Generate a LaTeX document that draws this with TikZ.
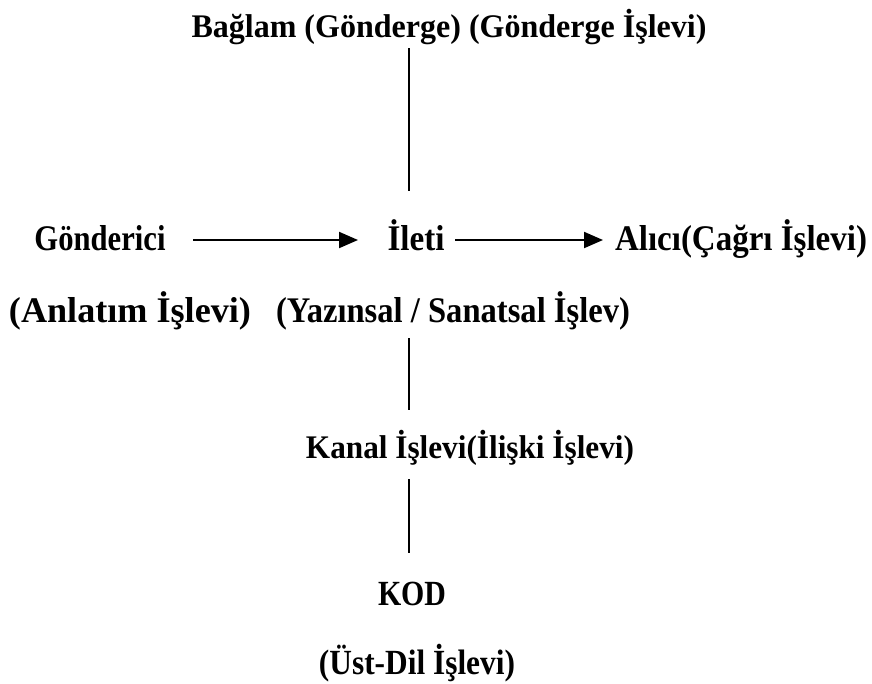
\documentclass[tikz,border=0pt]{standalone}
\usepackage{fontspec}
\setmainfont{Liberation Serif}
\usepackage{graphicx}
\usetikzlibrary{arrows.meta}
\newcommand\fitw[3]{\resizebox{#1pt}{#2\height}{#3}}
\begin{document}
\begin{tikzpicture}[x=1pt,y=-1pt,
  lbl/.style={anchor=base,inner sep=0pt,font=\fontsize{34}{40}\bfseries\selectfont},
  conn/.style={line width=1.7pt},
  arr/.style={line width=2pt,-{Triangle[length=19pt,width=16pt]}}]
\useasboundingbox (0,0) rectangle (872,683);
\node[lbl] (bag) at (449,37) {\fitw{515}{0.97}{Bağlam (Gönderge) (Gönderge İşlevi)}};
\node[lbl] (gon) at (100,250) {\fitw{131}{1.06}{Gönderici}};
\node[lbl] (ile) at (416,250) {\fitw{57}{1.06}{İleti}};
\node[lbl] (ali) at (741,250) {\fitw{252}{1.06}{Alıcı(Çağrı İşlevi)}};
\node[lbl] (anl) at (130,322) {\fitw{242}{1.06}{(Anlatım İşlevi)}};
\node[lbl] (yaz) at (453,322) {\fitw{354}{1.06}{(Yazınsal / Sanatsal İşlev)}};
\node[lbl] (kan) at (470,458) {\fitw{328}{0.97}{Kanal İşlevi(İlişki İşlevi)}};
\node[lbl] (kod) at (412,605) {\fitw{68}{1.04}{KOD}};
\node[lbl] (ust) at (417,674) {\fitw{196}{1.04}{(Üst-Dil İşlevi)}};
\coordinate (t1) at (409,48);
\coordinate (t2) at (409,191);
\coordinate (m1) at (409,338);
\coordinate (m2) at (409,410);
\coordinate (b1) at (409,479);
\coordinate (b2) at (409,553);
\coordinate (a1s) at (193,240);
\coordinate (a1e) at (358,240);
\coordinate (a2s) at (455,240);
\coordinate (a2e) at (603,240);
\draw[conn] (t1) -- (t2);
\draw[conn] (m1) -- (m2);
\draw[conn] (b1) -- (b2);
\draw[arr] (a1s) -- (a1e);
\draw[arr] (a2s) -- (a2e);
\end{tikzpicture}
\end{document}
